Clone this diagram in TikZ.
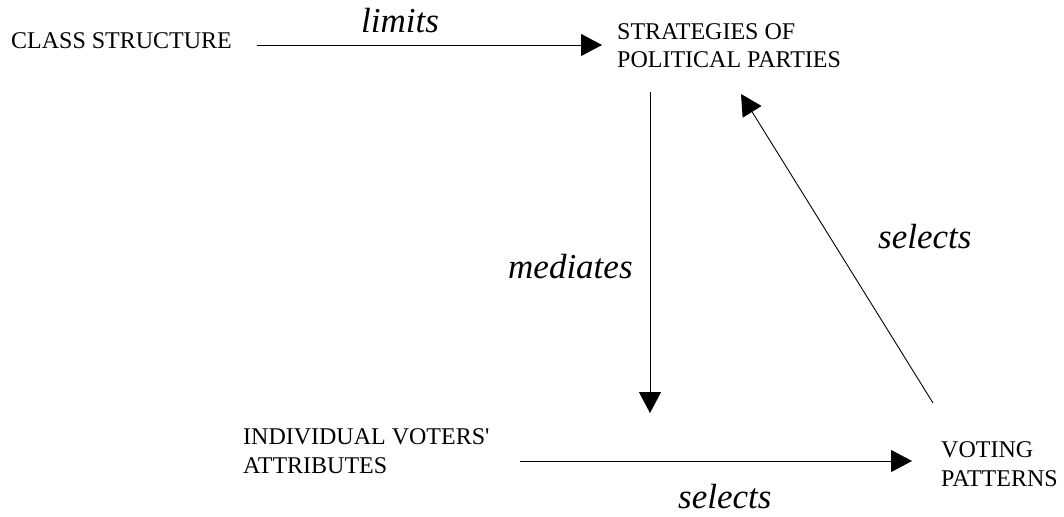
\documentclass[tikz,border=0pt]{standalone}
\usepackage{fontspec}
\setmainfont{Liberation Serif}[Ligatures=TeXOff]
\usetikzlibrary{arrows.meta}
\tikzset{
  caps/.style={inner sep=0pt, anchor=base west, align=left, font=\fontsize{24}{28.5}\selectfont},
  verb/.style={inner sep=0pt, anchor=base west, font=\fontsize{35}{40}\itshape},
  link/.style={line width=0.9pt, -{Triangle[length=21pt,width=22pt]}}
}
\begin{document}
\begin{tikzpicture}[x=1pt,y=-1pt]
\useasboundingbox[fill=white] (0,0) rectangle (1064,516);
% text nodes (base anchor = baseline of the last line)
\node[caps] (cls) at (11,49) {CLASS STRUCTURE};
\node[caps] (str) at (617,68) {STRATEGIES OF\\POLITICAL PARTIES};
\node[caps] (ind) at (243,473) {INDIVIDUAL VOTERS'\\ATTRIBUTES};
\node[caps] (vot) at (941,486) {VOTING\\PATTERNS};
% labels
\node[verb] (lim) at (361,33) {limits};
\node[verb] (med) at (508,278) {mediates};
\node[verb] (sel1) at (878,248) {selects};
\node[verb] (sel2) at (678,508) {selects};
% connector end points
\coordinate (clsE) at (257,45);
\coordinate (strW) at (602,45);
\coordinate (strS) at (650,92);
\coordinate (indN) at (650,413);
\coordinate (indE) at (520,461);
\coordinate (votW) at (912,461);
\coordinate (votN) at (933,403);
\coordinate (strSE) at (741,94);
% connectors
\draw[link] (clsE) -- (strW);
\draw[link] (strS) -- (indN);
\draw[link] (indE) -- (votW);
\draw[link] (votN) -- (strSE);
\end{tikzpicture}
\end{document}
